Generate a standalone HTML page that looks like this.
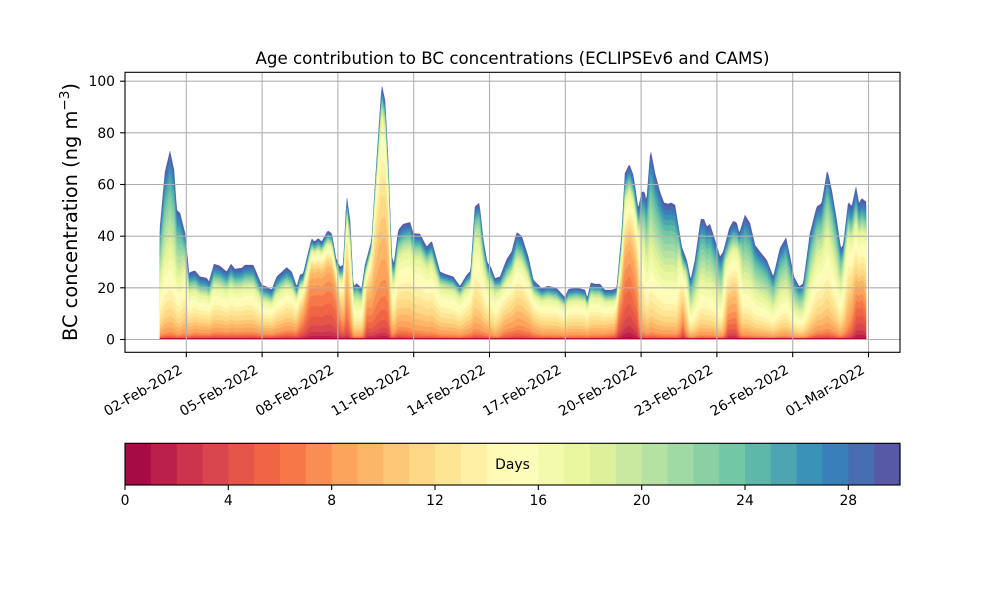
<!DOCTYPE html>
<html><head><meta charset="utf-8">
<style>
html,body{margin:0;padding:0;background:#fff;}
svg{display:block;}
text{font-family:"DejaVu Sans","Liberation Sans",sans-serif;fill:#000;}
</style></head>
<body>
<svg id="s" width="1000" height="600" viewBox="0 0 1000 600" xmlns="http://www.w3.org/2000/svg">
<rect width="1000" height="600" fill="#fff"/>
<g id="fills"></g>
<g stroke="#b0b0b0" stroke-width="1.1" fill="none">
<line x1="125" y1="339.5" x2="900" y2="339.5"/>
<line x1="125" y1="287.8" x2="900" y2="287.8"/>
<line x1="125" y1="236.2" x2="900" y2="236.2"/>
<line x1="125" y1="184.5" x2="900" y2="184.5"/>
<line x1="125" y1="132.8" x2="900" y2="132.8"/>
<line x1="125" y1="81.2" x2="900" y2="81.2"/>
<line x1="186.3" y1="72" x2="186.3" y2="352"/>
<line x1="262.1" y1="72" x2="262.1" y2="352"/>
<line x1="337.9" y1="72" x2="337.9" y2="352"/>
<line x1="413.7" y1="72" x2="413.7" y2="352"/>
<line x1="489.5" y1="72" x2="489.5" y2="352"/>
<line x1="565.3" y1="72" x2="565.3" y2="352"/>
<line x1="641.1" y1="72" x2="641.1" y2="352"/>
<line x1="716.9" y1="72" x2="716.9" y2="352"/>
<line x1="792.7" y1="72" x2="792.7" y2="352"/>
<line x1="868.5" y1="72" x2="868.5" y2="352"/>
</g>
<rect x="125" y="72.3" width="775" height="280" fill="none" stroke="#000" stroke-width="1.1"/>
<g stroke="#000" stroke-width="1.1">
<line x1="120.1" y1="339.5" x2="125" y2="339.5"/>
<line x1="120.1" y1="287.8" x2="125" y2="287.8"/>
<line x1="120.1" y1="236.2" x2="125" y2="236.2"/>
<line x1="120.1" y1="184.5" x2="125" y2="184.5"/>
<line x1="120.1" y1="132.8" x2="125" y2="132.8"/>
<line x1="120.1" y1="81.2" x2="125" y2="81.2"/>
<line x1="186.3" y1="352.3" x2="186.3" y2="357.2"/>
<line x1="262.1" y1="352.3" x2="262.1" y2="357.2"/>
<line x1="337.9" y1="352.3" x2="337.9" y2="357.2"/>
<line x1="413.7" y1="352.3" x2="413.7" y2="357.2"/>
<line x1="489.5" y1="352.3" x2="489.5" y2="357.2"/>
<line x1="565.3" y1="352.3" x2="565.3" y2="357.2"/>
<line x1="641.1" y1="352.3" x2="641.1" y2="357.2"/>
<line x1="716.9" y1="352.3" x2="716.9" y2="357.2"/>
<line x1="792.7" y1="352.3" x2="792.7" y2="357.2"/>
<line x1="868.5" y1="352.3" x2="868.5" y2="357.2"/>
</g>
<g font-size="13.9" text-anchor="end">
<text x="115" y="344.5">0</text>
<text x="115" y="292.8">20</text>
<text x="115" y="241.2">40</text>
<text x="115" y="189.5">60</text>
<text x="115" y="137.8">80</text>
<text x="115" y="86.2">100</text>
</g>
<g font-size="13.9" text-anchor="end">
<text transform="translate(183.3,372.5) rotate(-30)">02-Feb-2022</text>
<text transform="translate(259.1,372.5) rotate(-30)">05-Feb-2022</text>
<text transform="translate(334.9,372.5) rotate(-30)">08-Feb-2022</text>
<text transform="translate(410.7,372.5) rotate(-30)">11-Feb-2022</text>
<text transform="translate(486.5,372.5) rotate(-30)">14-Feb-2022</text>
<text transform="translate(562.3,372.5) rotate(-30)">17-Feb-2022</text>
<text transform="translate(638.1,372.5) rotate(-30)">20-Feb-2022</text>
<text transform="translate(713.9,372.5) rotate(-30)">23-Feb-2022</text>
<text transform="translate(789.7,372.5) rotate(-30)">26-Feb-2022</text>
<text transform="translate(865.5,372.5) rotate(-30)">01-Mar-2022</text>
</g>
<text x="512.5" y="64" font-size="16.67" text-anchor="middle">Age contribution to BC concentrations (ECLIPSEv6 and CAMS)</text>
<text transform="translate(77,212) rotate(-90)" font-size="19.4" text-anchor="middle">BC concentration (ng m<tspan dy="-8" font-size="13.6">−3</tspan><tspan dy="8">)</tspan></text>
<g id="cbar"></g>
<rect x="125" y="443.3" width="775" height="41.7" fill="none" stroke="#000" stroke-width="1.1"/>
<text x="512.5" y="469" font-size="13.9" text-anchor="middle">Days</text>
<g stroke="#000" stroke-width="1.1">
<line x1="125" y1="485" x2="125" y2="490"/>
<line x1="228.3" y1="485" x2="228.3" y2="490"/>
<line x1="331.7" y1="485" x2="331.7" y2="490"/>
<line x1="435" y1="485" x2="435" y2="490"/>
<line x1="538.3" y1="485" x2="538.3" y2="490"/>
<line x1="641.7" y1="485" x2="641.7" y2="490"/>
<line x1="745" y1="485" x2="745" y2="490"/>
<line x1="848.3" y1="485" x2="848.3" y2="490"/>
</g>
<g font-size="13.9" text-anchor="middle">
<text x="125" y="505">0</text>
<text x="228.3" y="505">4</text>
<text x="331.7" y="505">8</text>
<text x="435" y="505">12</text>
<text x="538.3" y="505">16</text>
<text x="641.7" y="505">20</text>
<text x="745" y="505">24</text>
<text x="848.3" y="505">28</text>
</g>
</svg>
<script>
(function(){
var NS='http://www.w3.org/2000/svg';
var anchors=[[158,1,66],[213,62,79],[244,109,67],[253,174,97],[254,224,139],[255,255,191],[230,245,152],[171,221,164],[102,194,165],[50,136,189],[94,79,162]];
function spec(t){var p=t*10;var i=Math.floor(p);if(i>=10)i=9;var f=p-i;var a=anchors[i],b=anchors[i+1];var c=[];for(var k=0;k<3;k++)c.push(Math.round(a[k]+(b[k]-a[k])*f));return 'rgb('+c.join(',')+')';}
var cols=[];for(var i=0;i<30;i++)cols.push(spec((i+0.5)/30));
var cb=document.getElementById('cbar');
var w=775/30;
for(var i=0;i<30;i++){var r=document.createElementNS(NS,'rect');r.setAttribute('x',(125+i*w).toFixed(2));r.setAttribute('y','443.3');r.setAttribute('width',(w+0.6).toFixed(2));r.setAttribute('height','41.7');r.setAttribute('fill',cols[i]);cb.appendChild(r);}
var pts=[[160,227],[165,172],[170,151],[174,170],[176.7,210],[180,213],[185,233],[189,273],[191.7,271.7],[195,270.7],[200,276.7],[206.7,278],[209,281.7],[214,264],[220,266],[226.7,271.7],[231,264],[235,269],[241.7,268],[245,265],[253.3,265],[261.7,285],[266.7,286.7],[271.7,290],[276.7,276.7],[286.7,267.3],[291.7,271.7],[296.7,286.7],[300,275],[303.3,273.3],[311.7,238.3],[314.3,241.7],[318.3,238.3],[321.7,241.7],[327.7,230.7],[331.7,233.3],[336,258.3],[340,266.7],[343.3,265],[346.7,196],[350,220],[353.3,286.7],[356.7,283.3],[361.7,288.3],[365,265],[371.7,240],[376.7,160],[381.7,85],[385,100],[388.3,163.3],[391.7,256.7],[394,263.3],[398.3,230],[403.3,224],[410,222.3],[413.3,233.3],[420,234],[426.7,246.7],[431.7,241],[440,271.7],[445,274],[453.3,276.7],[460,286],[466.7,275],[470.7,270.7],[475,206.7],[479.3,202.7],[483.3,240],[487.3,262.7],[490.7,266.7],[495,278.3],[500,276.7],[506.7,259.3],[511.7,251.7],[516.7,232.3],[521.7,236],[528.3,256.7],[533.3,280],[541.7,288.3],[548.3,286],[556.7,288.3],[565,297.3],[568.3,289.3],[576.7,287.7],[585,290],[587.3,298.3],[590.7,282.7],[595,284],[600,284],[605,290],[611.7,290],[616.7,288.3],[621.7,233.3],[625,173.3],[629.3,164.3],[633.3,175],[638.3,209],[641.5,192],[644.5,191.7],[646.5,202],[650.5,149.5],[655,173.3],[660,192],[664,202.7],[668.3,204],[671,202.7],[675,205],[681.7,246.7],[686.7,260],[690.7,280],[695,260],[700.7,219.3],[704,219.3],[706.7,226.7],[710,224.3],[715,240],[720,256.7],[723.3,251.7],[729.3,228.3],[733.3,221],[736.7,222.7],[739.3,233.3],[745,215],[750,223.3],[755,245],[760,251.7],[766.7,260],[773.3,276.7],[780,248.3],[786,237.7],[790,256.7],[794,276.7],[799.3,286.7],[803.3,283.3],[810,233.3],[816.7,206.7],[821.7,203.3],[827.3,170],[831.7,190],[836.7,220],[840.7,248.3],[843.3,245],[848.3,201.7],[851.7,206.7],[856,186.7],[859,203.3],[861.7,198.3],[866,201.7]];
var prm=[[160,0.6,20,6],[180,0.6,20,6],[188,0.2,14,5],[195,0.15,10,5],[260,0.15,10,5],[280,0.2,10,5],[295,0.25,9,4],[303,0.45,7,3],[310,0.65,6,2.5],[335,0.65,6,2.5],[340,0.45,7,3],[344,0.4,9,4],[347,0.55,8,3],[351,0.4,11,4],[355,0.4,16,5],[362,0.4,15,5],[367,0.55,7,3],[374,0.7,9,3.5],[382,0.7,10,4],[388,0.65,9,3.5],[392,0.3,14,5],[398,0.35,12,5],[420,0.4,13,4],[460,0.4,13,4],[470,0.4,12,4],[479,0.5,15,5],[488,0.4,14,5],[495,0.4,15,4],[505,0.2,9,3],[518,0.22,9,3],[530,0.22,9,3],[545,0.3,12,4],[600,0.3,12,4],[614,0.3,10,4],[619,0.45,6,2.5],[630,0.55,6,3],[637,0.5,7,3],[642,0.3,16,5],[648,0.6,20,6],[676,0.6,20,6],[683,0.3,7,3],[690,0.6,20,6],[722,0.6,20,6],[728,0.3,7,3],[736,0.3,7,3],[743,0.6,20,6],[808,0.6,20,6],[818,0.45,17,6],[828,0.45,17,6],[840,0.55,19,6],[850,0.25,9,3],[857,0.3,5,2.5],[862,0.32,5,2.5],[866,0.3,6,3]];
function interp(arr,x,idx){if(x<=arr[0][0])return arr[0][idx];for(var i=1;i<arr.length;i++){if(x<=arr[i][0]){var a=arr[i-1],b=arr[i];var f=(x-a[0])/(b[0]-a[0]);return a[idx]+(b[idx]-a[idx])*f;}}return arr[arr.length-1][idx];}
var bw=[0.1,0.1,0.1,0.15,0.2,0.3,0.4,0.6,1.5,1.5,1.5,2,2,2,2,2,2,2,0.8,0.8,0.8,0.8,0.8,0.8,0.8,1,1,1,1,1];
var sumB=0;for(var a=0;a<30;a++)sumB+=bw[a];
var Y0=339.5;
var xs=[];for(var x=160;x<=866;x+=1)xs.push(x);
var cums=[];var hs=[];
for(var j=0;j<xs.length;j++){
 var x=xs[j];var h=Y0-interp(pts,x,1);hs.push(h);
 var al=interp(prm,x,1),m=interp(prm,x,2),s=interp(prm,x,3);
 var ev=[],sumE=0;for(var a=0;a<30;a++){var e=Math.exp(-0.5*Math.pow((a+0.5-m)/s,2));ev.push(e);sumE+=e;}
 var c=[0];var acc=0;for(var a=0;a<30;a++){acc+=(1-al)*bw[a]/sumB+al*ev[a]/sumE;c.push(acc);}
 for(var a=0;a<=30;a++)c[a]/=acc;
 cums.push(c);
}
var g=document.getElementById('fills');
for(var k=29;k>=0;k--){
 var d='M160,'+Y0;
 for(var j=0;j<xs.length;j++){
   var hh=hs[j]*cums[j][k+1];
   if(k===0&&hh<1.2)hh=1.2;
   d+=' L'+xs[j]+','+(Y0-hh).toFixed(2);
 }
 d+=' L866,'+Y0+' Z';
 var p=document.createElementNS(NS,'path');p.setAttribute('d',d);p.setAttribute('fill',cols[k]);
 p.setAttribute('stroke',cols[k]);p.setAttribute('stroke-width','0.3');
 g.appendChild(p);
}
})();
</script>
</body></html>
